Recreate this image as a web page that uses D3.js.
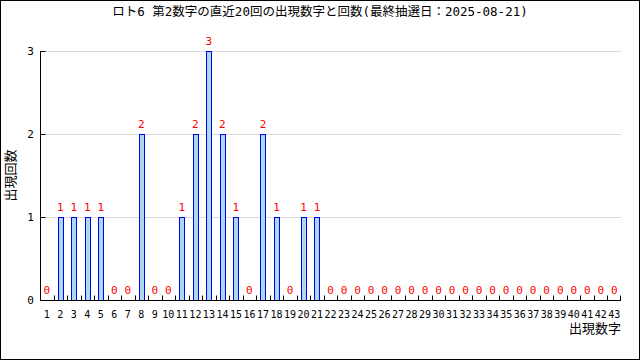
<!DOCTYPE html>
<html>
<head>
<meta charset="utf-8">
<script src="https://cdn.jsdelivr.net/npm/d3@7"></script>
<style>
  body { margin: 0; background: #fff; }
  text { font-family: "DejaVu Sans Mono", "Noto Sans CJK JP", monospace; }
</style>
</head>
<body>
<div id="chart"></div>
<script>
var title = "ロト6 第2数字の直近20回の出現数字と回数(最終抽選日：2025-08-21)";
var numbers = d3.range(1, 44);
var counts = [0, 1, 1, 1, 1, 0, 0, 2, 0, 0,
              1, 2, 3, 2, 1, 0, 2, 1, 0, 1,
              1, 0, 0, 0, 0, 0, 0, 0, 0, 0,
              0, 0, 0, 0, 0, 0, 0, 0, 0, 0,
              0, 0, 0];
var yTicks = [0, 1, 2, 3];

var w = 640, h = 360;
var margin = {top: 51, right: 19, bottom: 60, left: 40};

var svg = d3.select("#chart").append("svg")
  .attr("width", w)
  .attr("height", h);

// outer frame
svg.append("rect")
  .attr("x", 0.5).attr("y", 0.5)
  .attr("width", w - 1).attr("height", h - 1)
  .attr("fill", "#fff")
  .attr("stroke", "#000");

var data = numbers.map((n, i) => ({num: n, count: counts[i]}));

var xScale = d3.scaleBand()
  .domain(numbers)
  .range([margin.left, w - margin.right]);
var yScale = d3.scaleLinear()
  .domain([0, 3])
  .range([h - margin.bottom, margin.top]);

// grid
svg.append("g")
  .selectAll("line")
  .data(yTicks.slice(1))
  .enter().append("line")
    .attr("x1", margin.left)
    .attr("x2", w - margin.right)
    .attr("y1", d => Math.round(yScale(d)) + 0.5)
    .attr("y2", d => Math.round(yScale(d)) + 0.5)
    .attr("stroke", "#d9d9d9");

// bars
var barW = 5;
svg.append("g")
  .selectAll("rect")
  .data(data.filter(d => d.count > 0))
  .enter().append("rect")
    .attr("x", d => Math.round(xScale(d.num) + xScale.bandwidth() / 2 - barW / 2) + 0.5)
    .attr("y", d => Math.round(yScale(d.count)) + 0.5)
    .attr("width", barW)
    .attr("height", d => yScale(0) - Math.round(yScale(d.count)))
    .attr("fill", "#add8e6")
    .attr("stroke", "#0000ff");

// value labels
svg.append("g")
  .selectAll("text")
  .data(data)
  .enter().append("text")
    .attr("x", d => xScale(d.num) + xScale.bandwidth() / 2)
    .attr("y", d => yScale(d.count) - 6)
    .attr("text-anchor", "middle")
    .attr("font-size", 11)
    .attr("fill", "#ff0000")
    .text(d => d.count);

// x axis
var xAxis = svg.append("g")
  .attr("transform", "translate(0," + (h - margin.bottom + 0.5) + ")");
xAxis.append("line")
  .attr("x1", margin.left).attr("x2", w - margin.right)
  .attr("stroke", "#000");
xAxis.selectAll(".tick")
  .data(numbers.slice(1))
  .enter().append("line")
    .attr("x1", d => Math.round(xScale(d)) + 0.5)
    .attr("x2", d => Math.round(xScale(d)) + 0.5)
    .attr("y1", 0).attr("y2", -5)
    .attr("stroke", "#000");
xAxis.append("line")
  .attr("x1", w - margin.right - 0.5).attr("x2", w - margin.right - 0.5)
  .attr("y1", 0).attr("y2", -5)
  .attr("stroke", "#000");
xAxis.selectAll("text")
  .data(numbers)
  .enter().append("text")
    .attr("x", d => xScale(d) + xScale.bandwidth() / 2)
    .attr("y", 17)
    .attr("text-anchor", "middle")
    .attr("font-size", 10)
    .text(d => d);

// y axis
var yAxis = svg.append("g")
  .attr("transform", "translate(" + (margin.left + 0.5) + ",0)");
yAxis.append("line")
  .attr("y1", Math.round(yScale(3))).attr("y2", h - margin.bottom)
  .attr("stroke", "#000");
yAxis.selectAll(".tick")
  .data(yTicks)
  .enter().append("line")
    .attr("x1", 0).attr("x2", 5)
    .attr("y1", d => Math.round(yScale(d)) + 0.5)
    .attr("y2", d => Math.round(yScale(d)) + 0.5)
    .attr("stroke", "#000");
yAxis.selectAll("text")
  .data(yTicks)
  .enter().append("text")
    .attr("x", -10)
    .attr("y", d => yScale(d) + 4)
    .attr("text-anchor", "middle")
    .attr("font-size", 11)
    .text(d => d);

// axis titles
svg.append("text")
  .attr("transform", "translate(15," + ((margin.top + h - margin.bottom) / 2) + ") rotate(-90)")
  .attr("text-anchor", "middle")
  .attr("font-size", 13)
  .style("font-family", "'Noto Sans CJK JP'")
  .text("出現回数");
svg.append("text")
  .attr("x", w - margin.right)
  .attr("y", 333)
  .attr("text-anchor", "end")
  .attr("font-size", 13)
  .style("font-family", "'Noto Sans CJK JP'")
  .text("出現数字");

svg.append("text")
  .attr("x", w / 2)
  .attr("y", 16)
  .attr("text-anchor", "middle")
  .attr("font-size", 12.5)
  .text(title);
</script>
</body>
</html>
